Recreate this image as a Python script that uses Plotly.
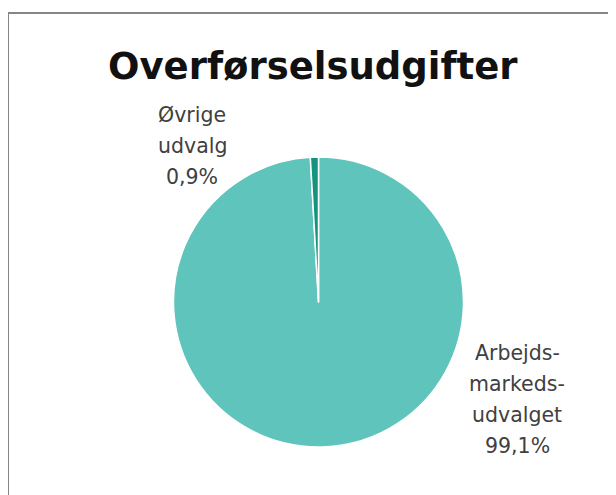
import plotly.graph_objects as go

title_text = "Overførselsudgifter"
categories = ["Arbejds-\nmarkeds-\nudvalget", "Øvrige\nudvalg"]
values = [99.1, 0.9]
value_labels = ["99,1%", "0,9%"]
colors = ["#5EC4BC", "#14947F"]

W, H = 616, 495
OFF = 8  # page body margin compensation (px)


def px(x):
    return (x - OFF) / W


def py(y):
    return 1 - (y - OFF) / H


fig = go.Figure()
cx, cy, r = 318.5, 302, 145
fig.add_trace(go.Pie(
    labels=[c.replace("\n", " ") for c in categories],
    values=values,
    sort=False,
    direction="clockwise",
    rotation=0,
    marker=dict(colors=colors, line=dict(color="white", width=1.5)),
    textinfo="none",
    hoverinfo="label+percent",
    showlegend=False,
    domain=dict(x=[px(cx - r), px(cx + r)],
                y=[py(cy + r), py(cy - r)]),
))

label_font = dict(family="DejaVu Sans", size=20.5, color="#404040")
# label anchor (center x, first line center y, line pitch) in pixels
label_pos = [(517, 353, 31), (192, 115, 31)]
annotations = []
for cat, vl, (lx, ly, pitch) in zip(categories, value_labels, label_pos):
    lines = cat.split("\n") + [vl]
    for i, ln in enumerate(lines):
        annotations.append(dict(
            text=ln, x=px(lx), y=py(ly + i * pitch),
            xref="paper", yref="paper", xanchor="center", yanchor="middle",
            showarrow=False, font=label_font))

annotations.append(dict(
    text="<b>" + title_text + "</b>", x=px(313), y=py(67),
    xref="paper", yref="paper", xanchor="center", yanchor="middle",
    showarrow=False, font=dict(family="DejaVu Sans", size=37, color="#111111")))

fig.update_layout(
    width=W, height=H,
    margin=dict(l=0, r=0, t=0, b=0),
    paper_bgcolor="white", plot_bgcolor="white",
    annotations=annotations,
    shapes=[dict(type="rect", xref="paper", yref="paper",
                 x0=px(8), x1=1.05, y0=-0.05, y1=py(13),
                 line=dict(color="#868686", width=2), fillcolor="rgba(0,0,0,0)",
                 layer="below")],
)

fig.write_html("out.html")
